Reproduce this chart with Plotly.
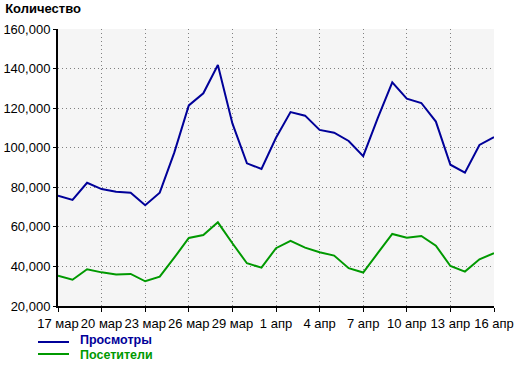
import plotly.graph_objects as go
import pandas as pd

dates = pd.date_range("2024-03-17", "2024-04-16", freq="D")
views = [75800, 73600, 82300, 79100, 77800, 77300, 70900, 77300, 97500, 121400,
         127500, 141800, 112300, 92100, 89300, 105000, 118000, 116200, 109000, 107600,
         103400, 95700, 115000, 133000, 124800, 122600, 113200, 91400, 87400, 101400, 105400]
visitors = [35300, 33300, 38600, 37000, 35900, 36200, 32500, 34800, 44400, 54400,
            55900, 62300, 51700, 41600, 39400, 49200, 52900, 49500, 47200, 45500,
            39100, 36900, 46700, 56400, 54500, 55400, 50500, 40200, 37400, 43600, 46700]
tick_dates = dates[::3]
tick_labels = ["17 мар", "20 мар", "23 мар", "26 мар", "29 мар", "1 апр",
               "4 апр", "7 апр", "10 апр", "13 апр", "16 апр"]
series_names = ["Просмотры", "Посетители"]

BLUE = "#000099"
GREEN = "#009900"
colors = [BLUE, GREEN]

fig = go.Figure()
for name, ys, c in zip(series_names, [views, visitors], colors):
    fig.add_trace(go.Scatter(x=dates, y=ys, mode="lines",
                             line=dict(color=c, width=2), name=name))

# manual compact legend (plot area: x 58..494 px, y 29..306 px)
line_y = [-0.130, -0.1733]
text_y = [-0.1245, -0.1787]
for name, c, ly, ty in zip(series_names, colors, line_y, text_y):
    fig.add_shape(type="line", xref="paper", yref="paper",
                  x0=-0.0459, x1=0.0252, y0=ly, y1=ly,
                  line=dict(color=c, width=2))
    fig.add_annotation(xref="paper", yref="paper", x=0.048, y=ty,
                       xanchor="left", yanchor="middle", showarrow=False,
                       borderpad=0,
                       text="<b>%s</b>" % name,
                       font=dict(color=c, size=12.5))

fig.update_layout(
    width=520, height=366,
    margin=dict(l=58, r=26, t=29, b=60),
    paper_bgcolor="white",
    plot_bgcolor="#F5F5F5",
    font=dict(family="Liberation Sans, Arial, sans-serif", size=13, color="black"),
    title=dict(text="<b>Количество</b>", x=0.01, xref="container", xanchor="left",
               y=0.988, yref="container", yanchor="top",
               font=dict(size=13, color="black")),
    showlegend=False,
)
fig.update_xaxes(
    range=[dates[0], dates[-1]],
    tickvals=list(tick_dates), ticktext=tick_labels, tickangle=0,
    automargin=False,
    showgrid=True, gridcolor="#808080", griddash="1px,3px", gridwidth=1,
    showline=True, linecolor="black", linewidth=2,
    ticks="outside", ticklen=4, tickcolor="black", tickwidth=1,
    zeroline=False,
)
fig.update_yaxes(
    range=[20000, 160000], dtick=20000, tickformat=",",
    automargin=False,
    showgrid=True, gridcolor="#808080", griddash="1px,3px", gridwidth=1,
    showline=True, linecolor="black", linewidth=2,
    ticks="outside", ticklen=3, tickcolor="black", tickwidth=1,
    zeroline=False,
)

fig.write_html("out.html")
